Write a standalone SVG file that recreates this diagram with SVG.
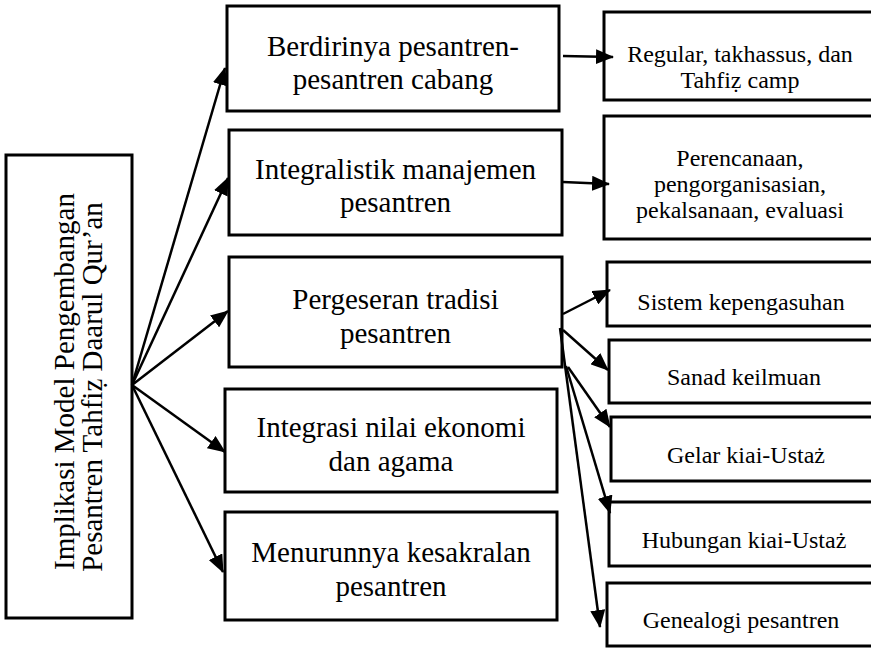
<svg xmlns="http://www.w3.org/2000/svg" width="871" height="649" viewBox="0 0 871 649">
<style>
  .box { fill: #fff; stroke: #000; stroke-width: 3; }
  .t { font-family: "Liberation Serif", "Times New Roman", serif; fill: #000; text-anchor: middle; }
  .big { font-size: 29px; }
  .small { font-size: 24px; }
  .conn line { stroke: #000; stroke-width: 2.5; marker-end: url(#arrow); }
</style>
<defs>
  <marker id="arrow" markerUnits="userSpaceOnUse" markerWidth="18" markerHeight="15" refX="17" refY="7.5" orient="auto">
    <path d="M0,0 L18,7.5 L0,15 z" fill="#000"/>
  </marker>
</defs>
<rect width="871" height="649" fill="#fff"/>

<g id="root">
  <rect class="box" x="6" y="155" width="126" height="463"/>
  <text class="t big" transform="translate(74,381.5) rotate(-90)">Implikasi Model Pengembangan</text>
  <text class="t big" transform="translate(102,387) rotate(-90)">Pesantren Tahfiẓ Daarul Qur’an</text>
</g>

<g id="berdirinya">
  <rect class="box" x="227" y="6" width="332" height="105"/>
  <text class="t big" x="393" y="56">Berdirinya pesantren-</text>
  <text class="t big" x="393" y="89">pesantren cabang</text>
</g>
<g id="integralistik">
  <rect class="box" x="229" y="130" width="333" height="105"/>
  <text class="t big" x="395.5" y="179">Integralistik manajemen</text>
  <text class="t big" x="395.5" y="212">pesantren</text>
</g>
<g id="pergeseran">
  <rect class="box" x="229" y="257" width="333" height="110"/>
  <text class="t big" x="395.5" y="309">Pergeseran tradisi</text>
  <text class="t big" x="395.5" y="343">pesantren</text>
</g>
<g id="integrasi">
  <rect class="box" x="225" y="389" width="332" height="103"/>
  <text class="t big" x="391" y="437">Integrasi nilai ekonomi</text>
  <text class="t big" x="391" y="471">dan agama</text>
</g>
<g id="menurunnya">
  <rect class="box" x="225" y="512" width="332" height="108"/>
  <text class="t big" x="391" y="562">Menurunnya kesakralan</text>
  <text class="t big" x="391" y="596">pesantren</text>
</g>

<g id="regular">
  <rect class="box" x="604" y="12" width="276" height="88"/>
  <text class="t small" x="740" y="62">Regular, takhassus, dan</text>
  <text class="t small" x="740" y="88">Tahfiẓ camp</text>
</g>
<g id="perencanaan">
  <rect class="box" x="604" y="116" width="276" height="123"/>
  <text class="t small" x="740" y="166">Perencanaan,</text>
  <text class="t small" x="740" y="192">pengorganisasian,</text>
  <text class="t small" x="740" y="218">pekalsanaan, evaluasi</text>
</g>
<g id="sistem">
  <rect class="box" x="607" y="262" width="273" height="64"/>
  <text class="t small" x="741" y="310">Sistem kepengasuhan</text>
</g>
<g id="sanad">
  <rect class="box" x="609" y="340" width="271" height="63"/>
  <text class="t small" x="744" y="385">Sanad keilmuan</text>
</g>
<g id="gelar">
  <rect class="box" x="611" y="417" width="269" height="64"/>
  <text class="t small" x="746" y="463">Gelar kiai-Ustaż</text>
</g>
<g id="hubungan">
  <rect class="box" x="609" y="502" width="271" height="64"/>
  <text class="t small" x="744" y="548">Hubungan kiai-Ustaż</text>
</g>
<g id="genealogi">
  <rect class="box" x="607" y="583" width="273" height="63"/>
  <text class="t small" x="741" y="628">Genealogi pesantren</text>
</g>

<g id="connectors" class="conn">
  <line x1="132" y1="385" x2="225" y2="68"/>
  <line x1="132" y1="385" x2="228" y2="178"/>
  <line x1="132" y1="385" x2="228" y2="311"/>
  <line x1="132" y1="385" x2="225" y2="452"/>
  <line x1="132" y1="385" x2="223" y2="572"/>
  <line x1="563" y1="56" x2="613" y2="57"/>
  <line x1="563" y1="182" x2="609" y2="184"/>
  <line x1="563" y1="314" x2="610" y2="290"/>
  <line x1="563" y1="330" x2="608" y2="370"/>
  <line x1="568" y1="367" x2="610" y2="427"/>
  <line x1="566" y1="366" x2="610" y2="513"/>
  <line x1="560" y1="328" x2="600" y2="627"/>
</g>
</svg>
